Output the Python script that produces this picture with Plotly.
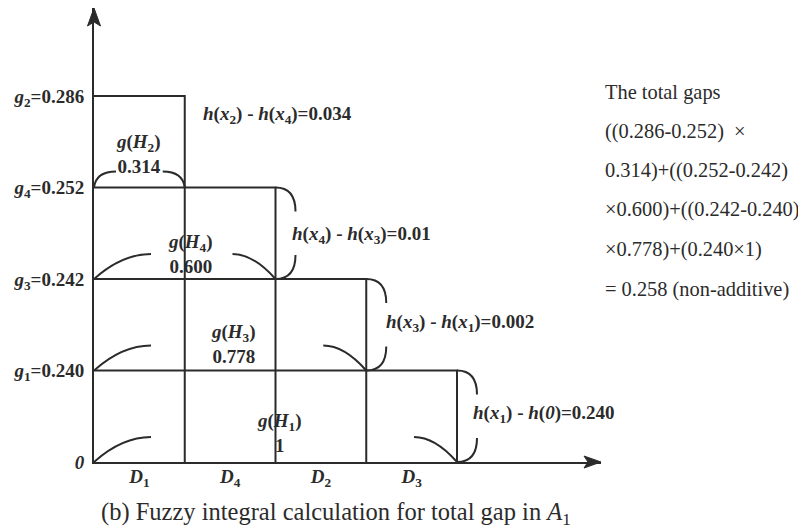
import plotly.graph_objects as go

# ---------------- data ----------------
categories = ["1", "4", "2", "3"]                      # D subscripts
level_names = ["2", "4", "3", "1"]                     # g subscripts
level_values = [0.286, 0.252, 0.242, 0.240]           # descending g values
measure_names = ["2", "4", "3", "1"]                   # H subscripts
measure_values = [0.314, 0.600, 0.778, 1]
diff_pairs = [("2", "4"), ("4", "3"), ("3", "1"), ("1", None)]
diff_values = ["0.034", "0.01", "0.002", "0.240"]

# ---------------- style / layout constants ----------------
PAGE_OFF = 8                                # browser body margin
W, H = 806 - PAGE_OFF, 530 - PAGE_OFF
AX_X, AX_Y = 94, 462                        # axis origin (page px)
TIP_X, TIP_Y = 601, 8                       # axis arrow tips (page px)
L, T = AX_X - PAGE_OFF, TIP_Y - PAGE_OFF
R, B = 806 - TIP_X, 530 - AX_Y
UX, UY = 90.75, 91.5                        # px per schematic unit
XMAX = (TIP_X - AX_X) / UX
YMAX = (AX_Y - TIP_Y) / UY
INK = "#2b2b2b"
SERIF = "Liberation Serif, Times New Roman, serif"
LW = 2

def px2x(p):
    return (p - AX_X) / UX

def py2y(p):
    return (AX_Y - p) / UY

def px2paper(p):
    return (p - AX_X) / (TIP_X - AX_X)

def py2paper(p):
    return (AX_Y - p) / (AX_Y - TIP_Y)

n = len(level_values)
fig = go.Figure()

# step rectangles (one per level, sorted descending)
for j in range(1, n + 1):
    top = n + 1 - j
    fig.add_trace(go.Scatter(
        x=[0, j, j], y=[top, top, 0], mode="lines",
        line=dict(color=INK, width=LW), hoverinfo="skip", showlegend=False,
        cliponaxis=False))

shapes = []
arc_small = dict(lx=22, ly=16, lc=2, rx=22, rc=2)
arc_big = dict(lx=57, ly=25, lc=28, rx=43, rc=22)
for j in range(1, n + 1):
    base = n - j
    s = arc_small if j == 1 else arc_big
    ly = s["ly"]
    shapes.append(dict(type="path", xref="x", yref="y", xsizemode="pixel", ysizemode="pixel",
                       xanchor=0, yanchor=base,
                       path=f"M 0,0 Q {s['lc']},{ly} {s['lx']},{ly}",
                       line=dict(color=INK, width=LW)))
    shapes.append(dict(type="path", xref="x", yref="y", xsizemode="pixel", ysizemode="pixel",
                       xanchor=j, yanchor=base,
                       path=f"M {-s['rx']},{ly} Q {-s['rc']},{ly} 0,0",
                       line=dict(color=INK, width=LW)))

BW, BH = 20, 24
for j in range(2, n + 1):
    top = n + 1 - j
    bot = n - j
    shapes.append(dict(type="path", xref="x", yref="y", xsizemode="pixel", ysizemode="pixel",
                       xanchor=j, yanchor=top,
                       path=f"M 0,0 Q {BW},0 {BW},{-BH}",
                       line=dict(color=INK, width=LW)))
    shapes.append(dict(type="path", xref="x", yref="y", xsizemode="pixel", ysizemode="pixel",
                       xanchor=j, yanchor=bot,
                       path=f"M {BW},{BH} Q {BW},0 0,0",
                       line=dict(color=INK, width=LW)))

# axis arrowheads
shapes.append(dict(type="path", xref="paper", yref="paper", xsizemode="pixel", ysizemode="pixel",
                   xanchor=0, yanchor=1,
                   path="M 0,0 L -6.5,-18 L 0,-14 L 6.5,-18 Z",
                   fillcolor=INK, line=dict(color=INK, width=1)))
shapes.append(dict(type="path", xref="paper", yref="paper", xsizemode="pixel", ysizemode="pixel",
                   xanchor=1, yanchor=0,
                   path="M 0,0 L -17,6 L -13,0 L -17,-6 Z",
                   fillcolor=INK, line=dict(color=INK, width=1)))

ann = []
bold_font = dict(family=SERIF, size=19, color=INK)

meas_pos = [(138, 154), (190, 254), (233, 344), (279, 433)]
for name, val, (px, py) in zip(measure_names, measure_values, meas_pos):
    vtxt = f"{val:.3f}" if val < 1 else f"{val:g}"
    ann.append(dict(x=px2x(px), y=py2y(py), xref="x", yref="y", showarrow=False,
                    text=f"<b><i>g</i>(<i>H</i><sub>{name}</sub>)<br>{vtxt}</b>",
                    font=bold_font, xanchor="center", yanchor="middle", align="center"))

diff_pos = [(201, 115), (290, 235), (384, 323), (471, 414)]
for (a, b), val, (px, py) in zip(diff_pairs, diff_values, diff_pos):
    second = f"<i>h</i>(<i>x</i><sub>{b}</sub>)" if b else "<i>h</i>(<i>0</i>)"
    t = f"<i>h</i>(<i>x</i><sub>{a}</sub>) - {second}={val}"
    ann.append(dict(x=px2x(px), y=py2y(py), xref="x", yref="y", showarrow=False,
                    text=f"<b>{t}</b>", font=bold_font,
                    xanchor="left", yanchor="middle"))

# right-hand explanation text
lv = level_values
d = [lv[i] - lv[i + 1] for i in range(n - 1)] + [lv[-1]]
total = sum(a * b for a, b in zip(d, measure_values))
right_lines = [
    "The total gaps",
    f"(({lv[0]:.3f}-{lv[1]:.3f})  ×",
    f"{measure_values[0]:.3f})+(({lv[1]:.3f}-{lv[2]:.3f})",
    f"×{measure_values[1]:.3f})+(({lv[2]:.3f}-{lv[3]:.3f})",
    f"×{measure_values[2]:.3f})+({lv[3]:.3f}×{measure_values[3]:g})",
    f"= {total:.3f} (non-additive)",
]
right_y = [92, 131, 170, 209, 249, 289]
for txt, py in zip(right_lines, right_y):
    ann.append(dict(x=px2paper(603), y=py2paper(py), xref="paper", yref="paper",
                    showarrow=False, text=txt,
                    font=dict(family=SERIF, size=20.4, color=INK),
                    xanchor="left", yanchor="middle"))

ann.append(dict(x=px2paper(336), y=py2paper(513), xref="paper", yref="paper",
                showarrow=False,
                text="(b) Fuzzy integral calculation for total gap in <i>A</i><sub>1</sub>",
                font=dict(family=SERIF, size=24.5, color=INK),
                xanchor="center", yanchor="middle"))

fig.update_layout(
    width=W, height=H,
    margin=dict(l=L, r=R, t=T, b=B, pad=0),
    paper_bgcolor="white", plot_bgcolor="white",
    shapes=shapes, annotations=ann, showlegend=False,
    xaxis=dict(range=[0, XMAX], showgrid=False, zeroline=False,
               showline=True, linecolor=INK, linewidth=LW,
               tickmode="array", tickvals=[i + 0.5 for i in range(n)],
               ticktext=[f"<b><i>D</i><sub>{c}</sub></b>" for c in categories],
               ticks="", ticklabelstandoff=-4,
               tickfont=dict(family=SERIF, size=19, color=INK), fixedrange=True),
    yaxis=dict(range=[0, YMAX], showgrid=False, zeroline=False,
               showline=True, linecolor=INK, linewidth=LW,
               tickmode="array", tickvals=list(range(n + 1)),
               ticktext=["<b><i>0</i></b>"] + [f"<b><i>g</i><sub>{nm}</sub>={v:.3f}</b>"
                                             for nm, v in zip(level_names[::-1], level_values[::-1])],
               ticks="", ticklabelstandoff=4,
               tickfont=dict(family=SERIF, size=19, color=INK), fixedrange=True),
)

fig.write_html("out.html")
